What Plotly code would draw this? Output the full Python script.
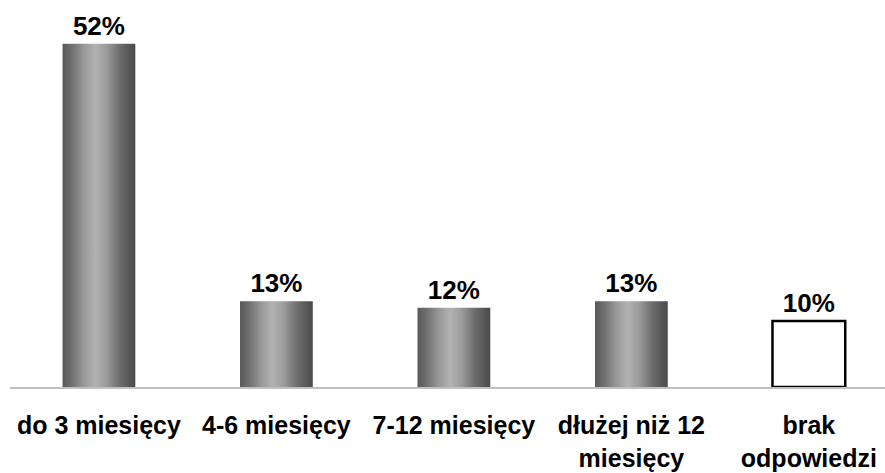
import plotly.graph_objects as go

# Survey answers: share of respondents per period
categories = ["do 3 miesięcy", "4-6 miesięcy", "7-12 miesięcy",
              "dłużej niż 12<br>miesięcy", "brak<br>odpowiedzi"]
values = [52, 13, 12, 13, 10]
value_labels = ["52%", "13%", "12%", "13%", "10%"]

BAR_W = 0.41
FONT = "Liberation Sans, Arial, sans-serif"
positions = list(range(len(categories)))

fig = go.Figure()

# Base bars: carry the value labels; the last one is an outlined white box
fig.add_trace(go.Bar(
    x=positions, y=values, width=BAR_W,
    text=value_labels, textposition="outside",
    textfont=dict(family=FONT, size=26, color="#000000", weight="bold"),
    cliponaxis=False,
    marker=dict(
        color=["rgba(0,0,0,0)"] * 4 + ["#ffffff"],
        line=dict(color=["rgba(0,0,0,0)"] * 4 + ["#000000"],
                  width=[0, 0, 0, 0, 2.5]),
    ),
    hoverinfo="skip", showlegend=False,
))

# Cylinder-style shading for the first four bars
shade = [
    [0.0, "#585858"], [0.12, "#6e6e6e"], [0.30, "#9a9a9a"],
    [0.45, "#b2b2b2"], [0.60, "#9c9c9c"], [0.80, "#6a6a6a"],
    [1.0, "#4a4a4a"],
]
for xi, v in zip(positions[:4], values[:4]):
    x0, x1 = xi - BAR_W / 2, xi + BAR_W / 2
    fig.add_trace(go.Scatter(
        x=[x0, x1, x1, x0, x0], y=[0, 0, v, v, 0],
        mode="lines", line=dict(width=0),
        fill="toself",
        fillgradient=dict(type="horizontal", colorscale=shade),
        hoverinfo="skip", showlegend=False,
    ))

fig.update_layout(
    width=885, height=473,
    margin=dict(l=10, r=0, t=20, b=86),
    paper_bgcolor="#ffffff", plot_bgcolor="#ffffff",
    showlegend=False,
    xaxis=dict(
        range=[-0.501, 4.429], tickmode="array",
        tickvals=positions, ticktext=categories,
        tickfont=dict(family=FONT, size=25, color="#000000", weight="bold"),
        showgrid=False, zeroline=False,
        showline=True, linecolor="#c0c0c0", linewidth=2,
        ticks="", ticklabelstandoff=15,
    ),
    yaxis=dict(range=[0, 55.6], visible=False, showgrid=False, zeroline=False),
)

fig.write_html("out.html")
